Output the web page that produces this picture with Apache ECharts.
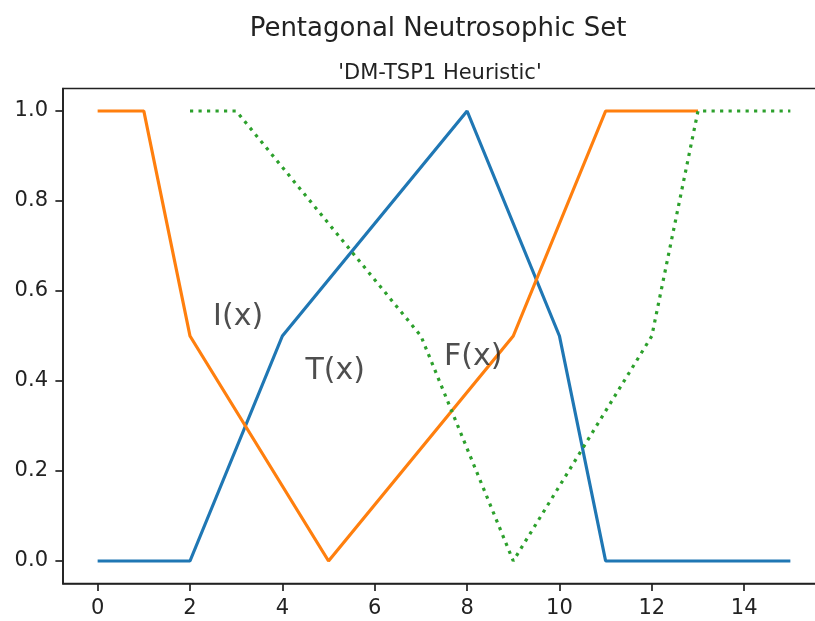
<!DOCTYPE html>
<html>
<head>
<meta charset="utf-8">
<script src="https://cdn.jsdelivr.net/npm/echarts@6/dist/echarts.min.js"></script>
<style>html,body{margin:0;padding:0;background:#fff}#c{width:815px;height:621px}</style>
</head>
<body>
<div id="c"></div>
<script>
const titleText = 'Pentagonal Neutrosophic Set';
const subtitleText = "'DM-TSP1 Heuristic'";
const tX = [0, 2, 4, 8, 10, 11, 15];
const tY = [0, 0, 0.5, 1, 0.5, 0, 0];
const iX = [0, 1, 2, 5, 9, 11, 13];
const iY = [1, 1, 0.5, 0, 0.5, 1, 1];
const fX = [2, 3, 7, 9, 12, 13, 15];
const fY = [1, 1, 0.5, 0, 0.5, 1, 1];
const xTicks = [0, 2, 4, 6, 8, 10, 12, 14];
const yTicks = [0, 0.2, 0.4, 0.6, 0.8, 1.0];
const labelTexts = ['I(x)', 'T(x)', 'F(x)'];
const labelX = [2.5, 4.5, 7.5];
const labelY = [0.52, 0.4, 0.43];

const FONT = 'DejaVu Sans';
const zip = (xs, ys) => xs.map((x, i) => [x, ys[i]]);

const chart = echarts.init(document.getElementById('c'), null, {renderer: 'canvas'});
chart.setOption({
  animation: false,
  backgroundColor: '#fff',
  title: [
    {text: titleText, left: 433, top: 11, textAlign: 'center',
     textStyle: {fontFamily: FONT, fontSize: 26, fontWeight: 'normal', color: '#222'}},
    {text: subtitleText, left: 435, top: 58, textAlign: 'center',
     textStyle: {fontFamily: FONT, fontSize: 21, fontWeight: 'normal', color: '#222'}}
  ],
  grid: {left: 63, top: 88.5, width: 762, height: 495, show: true, containLabel: false,
         outerBoundsMode: 'none',
         borderColor: '#222', borderWidth: 1.7, backgroundColor: 'transparent'},
  xAxis: {
    type: 'value', min: -0.75, max: 15.75,
    axisLine: {show: true, onZero: false, lineStyle: {color: '#222', width: 1.7}},
    axisTick: {show: true, length: 7.6, lineStyle: {color: '#222', width: 1.7}, customValues: xTicks},
    axisLabel: {customValues: xTicks, margin: 15, fontFamily: FONT, fontSize: 21, color: '#222',
                formatter: v => String(v)},
    splitLine: {show: false}
  },
  yAxis: {
    type: 'value', min: -0.05, max: 1.05,
    axisLine: {show: true, onZero: false, lineStyle: {color: '#222', width: 1.7}},
    axisTick: {show: true, length: 7.6, lineStyle: {color: '#222', width: 1.7}, customValues: yTicks},
    axisLabel: {customValues: yTicks, margin: 15, fontFamily: FONT, fontSize: 21, color: '#222',
                formatter: v => v.toFixed(1)},
    splitLine: {show: false}
  },
  series: [
    {name: 'T', type: 'line', data: zip(tX, tY), symbol: 'none',
     lineStyle: {color: '#1f77b4', width: 3.2}},
    {name: 'I', type: 'line', data: zip(iX, iY), symbol: 'none',
     lineStyle: {color: '#ff7f0e', width: 3.2}},
    {name: 'F', type: 'line', data: zip(fX, fY), symbol: 'none',
     lineStyle: {color: '#2ca02c', width: 3.2, type: [3.2, 5.3], cap: 'butt'}},
    {name: 'labels', type: 'scatter', symbolSize: 0,
     data: labelTexts.map((t, i) => ({value: [labelX[i], labelY[i]], name: t})),
     label: {show: true, position: [0, 0], align: 'left', verticalAlign: 'bottom',
             offset: [0, 7], formatter: p => p.name,
             fontFamily: FONT, fontSize: 30, color: '#222', lineHeight: 34},
     silent: true, z: 10}
  ]
});
</script>
</body>
</html>
